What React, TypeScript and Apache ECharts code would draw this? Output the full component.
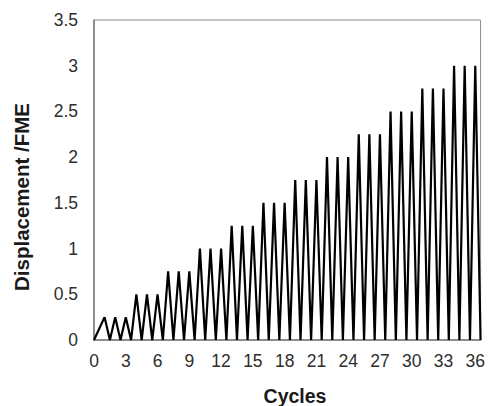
import React, { useEffect, useRef } from "react";
import * as echarts from "echarts";

// Peak displacement (/FME) reached in each cycle 1..36
const cycleNumbers = [1, 2, 3, 4, 5, 6, 7, 8, 9, 10, 11, 12, 13, 14, 15, 16, 17, 18, 19, 20, 21, 22, 23, 24, 25, 26, 27, 28, 29, 30, 31, 32, 33, 34, 35, 36];
const peakDisplacement = [
  0.25, 0.25, 0.25,
  0.5, 0.5, 0.5,
  0.75, 0.75, 0.75,
  1.0, 1.0, 1.0,
  1.25, 1.25, 1.25,
  1.5, 1.5, 1.5,
  1.75, 1.75, 1.75,
  2.0, 2.0, 2.0,
  2.25, 2.25, 2.25,
  2.5, 2.5, 2.5,
  2.75, 2.75, 2.75,
  3.0, 3.0, 3.0,
];
// Each cycle returns to zero half a cycle after its peak
const returnOffset = 0.5;
const startPoint: [number, number] = [0, 0];

const xTickLabels = ["0", "3", "6", "9", "12", "15", "18", "21", "24", "27", "30", "33", "36"];
const yTickLabels = ["0", "0.5", "1", "1.5", "2", "2.5", "3", "3.5"];

export default function App() {
  const ref = useRef<HTMLDivElement>(null);
  useEffect(() => {
    if (!ref.current) return;
    const chart = echarts.init(ref.current, undefined, { renderer: "svg" });
    const data: [number, number][] = [startPoint];
    cycleNumbers.forEach((c, i) => {
      data.push([c, peakDisplacement[i]]);
      data.push([c + returnOffset, 0]);
    });
    const font = "'Liberation Sans', Arial, sans-serif";
    chart.setOption({
      animation: false,
      backgroundColor: "#ffffff",
      grid: {
        left: 94,
        right: 4,
        top: 20,
        bottom: 66,
        show: true,
        borderColor: "#8c8c8c",
        borderWidth: 1,
        containLabel: false,
      },
      xAxis: {
        type: "value",
        min: 0,
        max: 36.5,
        interval: 3,
        splitLine: { show: false },
        axisTick: { show: false },
        axisLine: { show: true, lineStyle: { color: "#7a7a7a", width: 1.5 } },
        axisLabel: {
          margin: 12,
          color: "#2e2e2e",
          fontSize: 17.5,
          fontFamily: font,
          formatter: (v: number) => (xTickLabels.includes(String(v)) ? String(v) : ""),
        },
      },
      yAxis: {
        type: "value",
        min: 0,
        max: 3.5,
        interval: 0.5,
        splitLine: { show: false },
        axisTick: { show: false },
        axisLine: { show: true, lineStyle: { color: "#7a7a7a", width: 1.5 } },
        axisLabel: {
          margin: 16,
          color: "#2e2e2e",
          fontSize: 17.5,
          fontFamily: font,
          formatter: (v: number) => {
            const s = String(v);
            return yTickLabels.includes(s) ? s : "";
          },
        },
      },
      graphic: [
        {
          type: "text",
          x: 21,
          y: 197,
          rotation: Math.PI / 2,
          style: {
            text: "Displacement /FME",
            fontSize: 20.5,
            fontWeight: "bold",
            fontFamily: font,
            fill: "#1a1a1a",
            textAlign: "center",
            textVerticalAlign: "middle",
          },
        },
        {
          type: "text",
          x: 295,
          y: 396,
          style: {
            text: "Cycles",
            fontSize: 19.5,
            fontWeight: "bold",
            fontFamily: font,
            fill: "#1a1a1a",
            textAlign: "center",
            textVerticalAlign: "middle",
          },
        },
      ],
      series: [
        {
          type: "line",
          data,
          symbol: "none",
          lineStyle: { color: "#000000", width: 2.2 },
        },
      ],
    });
    return () => chart.dispose();
  }, []);
  return <div ref={ref} style={{ width: 488, height: 406, position: "absolute", left: 0, top: 0 }} />;
}
